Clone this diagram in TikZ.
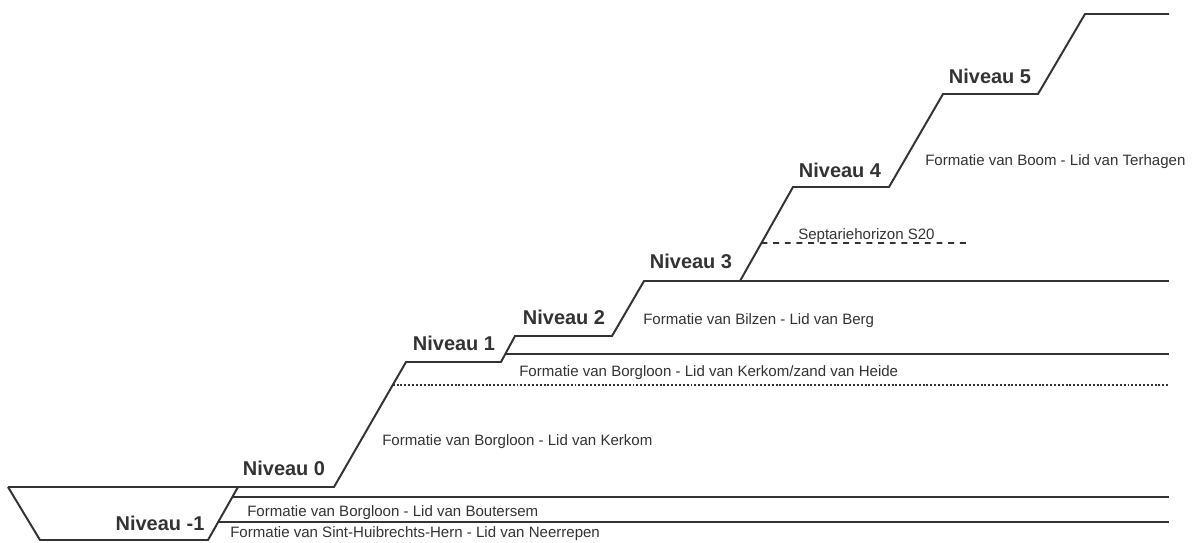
\documentclass[tikz,border=0pt]{standalone}
\usepackage{fontspec}
\setmainfont{Liberation Sans}
\usetikzlibrary{calc}
\definecolor{ink}{HTML}{333333}
\tikzset{
  profile/.style={line width=1.4pt,draw=ink,line join=miter},
  layer/.style={line width=1.4pt,draw=ink},
  dotline/.style={line width=1.5pt,draw=ink,dash pattern=on 1.4pt off 1.35pt},
  dashline/.style={line width=1.4pt,draw=ink,dash pattern=on 4.2pt off 4.1pt},
  lvl/.style={font=\bfseries\fontsize{14.2}{16}\selectfont,text=ink,inner sep=0pt,anchor=base},
  formlbl/.style={font=\fontsize{10.7}{12}\selectfont,text=ink,inner sep=0pt,anchor=base west}
}

\begin{document}
\begin{tikzpicture}[x=0.025cm,y=-0.025cm]
  \useasboundingbox (0,0) rectangle (1195,542);

  % --- Profiel (trappen) ---
  \coordinate (tl) at (8,487);
  \coordinate (tr) at (238,487);
  \coordinate (bl) at (40,540);
  \coordinate (br) at (208,540);
  \coordinate (s0a) at (334,487);
  \coordinate (s0b) at (406,362);
  \coordinate (s1a) at (501,362);
  \coordinate (s1b) at (515,336);
  \coordinate (s2a) at (612,336);
  \coordinate (s2b) at (644,281);
  \coordinate (s3a) at (740,281);
  \coordinate (s3b) at (793,187);
  \coordinate (s4a) at (889,187);
  \coordinate (s4b) at (943,94);
  \coordinate (s5a) at (1038,94);
  \coordinate (s5b) at (1085,14);
  \coordinate (top) at (1169,14);

  \draw[profile] (tl) -- (s0a) -- (s0b) -- (s1a) -- (s1b) -- (s2a) -- (s2b)
    -- (s3a) -- (s3b) -- (s4a) -- (s4b) -- (s5a) -- (s5b) -- (top);
  \draw[profile] (tl) -- (bl) -- (br) -- (tr);

  % --- Laaggrenzen ---
  \coordinate (g1) at ($(tr)!{10/53}!(br)$);
  \coordinate (g2) at ($(tr)!{35/53}!(br)$);
  \coordinate (g3) at ($(s1a)!{8/26}!(s1b)$);
  \coordinate (g4) at ($(s0a)!{102/125}!(s0b)$);
  \coordinate (g5) at ($(s3a)!{38/94}!(s3b)$);
  \draw[layer] (g1) -- (g1 -| top);
  \draw[layer] (g2) -- (g2 -| top);
  \draw[layer] (g3) -- (g3 -| top);
  \draw[layer] (s3a) -- (s3a -| top);
  \draw[dotline] (g4) -- (g4 -| top);
  \draw[dashline] (g5) -- (966,243);

  % --- Niveaus ---
  \node[lvl] (nm1) at (160,530) {Niveau -1};
  \node[lvl] (n0) at (284,475) {Niveau 0};
  \node[lvl] (n1) at (454,350) {Niveau 1};
  \node[lvl] (n2) at (564,324) {Niveau 2};
  \node[lvl] (n3) at (691,268) {Niveau 3};
  \node[lvl] (n4) at (840,177) {Niveau 4};
  \node[lvl] (n5) at (990,83) {Niveau 5};

  % --- Formaties ---
  \node[formlbl] (fneer) at (230,537) {Formatie van Sint-Huibrechts-Hern - Lid van Neerrepen};
  \node[formlbl] (fbout) at (247,516) {Formatie van Borgloon - Lid van Boutersem};
  \node[formlbl] (fkerk) at (382,445) {Formatie van Borgloon - Lid van Kerkom};
  \node[formlbl] (fheide) at (519,376) {Formatie van Borgloon - Lid van Kerkom/zand van Heide};
  \node[formlbl] (fberg) at (643,324) {Formatie van Bilzen - Lid van Berg};
  \node[formlbl] (fsept) at (798,239) {Septariehorizon S20};
  \node[formlbl] (fboom) at (925,165) {Formatie van Boom - Lid van Terhagen};

\end{tikzpicture}
\end{document}
